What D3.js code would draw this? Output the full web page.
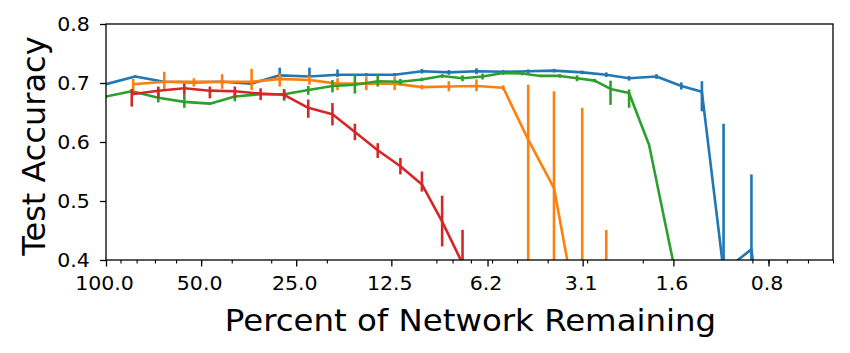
<!DOCTYPE html>
<html>
<head>
<meta charset="utf-8">
<script src="https://cdn.jsdelivr.net/npm/d3@7"></script>
<style>
  body { margin: 0; background: #fff; }
  svg text { font-family: "DejaVu Sans", sans-serif; fill: #000; }
</style>
</head>
<body>
<svg id="chart" width="850" height="353"></svg>
<script>
// ---- data (percent of network remaining, test accuracy, error-bar low / high) ----
const tickValues = [100, 50, 25, 12.5, 6.2, 3.1, 1.6, 0.8];
const tickLabels = ["100.0", "50.0", "25.0", "12.5", "6.2", "3.1", "1.6", "0.8"];
const yTicks = [0.4, 0.5, 0.6, 0.7, 0.8];

const blueX  = [100, 80.9, 65.4, 52.7, 42.9, 34.6, 28.2, 22.7, 18.5, 15.0, 12.2, 10.0, 8.22, 6.72, 5.53, 4.61, 3.82, 3.11, 2.61, 2.21, 1.81, 1.51, 1.30, 1.11, 0.906, 0.765];
const blueY  = [0.698, 0.711, 0.702, 0.701, 0.702, 0.699, 0.713, 0.711, 0.714, 0.714, 0.714, 0.720, 0.718, 0.720, 0.719, 0.720, 0.721, 0.718, 0.714, 0.708, 0.711, 0.695, 0.685, 0.381, 0.418, 0.10];
const blueLo = [0.696, 0.709, 0.699, 0.698, 0.699, 0.696, 0.709, 0.709, 0.710, 0.711, 0.711, 0.716, 0.714, 0.715, 0.716, 0.717, 0.718, 0.715, 0.710, 0.704, 0.707, 0.689, 0.652, 0.131, 0.291, 0.10];
const blueHi = [0.700, 0.713, 0.705, 0.704, 0.705, 0.702, 0.726, 0.726, 0.723, 0.717, 0.717, 0.724, 0.722, 0.725, 0.722, 0.723, 0.724, 0.721, 0.718, 0.712, 0.715, 0.701, 0.703, 0.631, 0.545, 0.10];

const orangeX  = [82.0, 65.4, 52.7, 42.9, 34.6, 28.2, 22.7, 18.5, 15.0, 12.2, 10.0, 8.22, 6.72, 5.53, 4.61, 3.82, 3.11, 2.61];
const orangeY  = [0.698, 0.702, 0.702, 0.702, 0.702, 0.707, 0.705, 0.699, 0.699, 0.699, 0.693, 0.694, 0.695, 0.692, 0.604, 0.522, 0.262, 0.20];
const orangeLo = [0.686, 0.688, 0.694, 0.690, 0.688, 0.694, 0.697, 0.688, 0.688, 0.688, 0.689, 0.686, 0.686, 0.688, 0.30, 0.358, -0.134, -0.05];
const orangeHi = [0.707, 0.719, 0.708, 0.715, 0.724, 0.716, 0.712, 0.708, 0.710, 0.710, 0.697, 0.703, 0.706, 0.696, 0.697, 0.686, 0.658, 0.451];

const greenX  = [100, 82.9, 68.3, 56.5, 46.9, 39.1, 32.4, 27.3, 22.9, 19.2, 16.3, 13.8, 11.7, 10.0, 8.63, 7.44, 6.43, 5.53, 4.82, 4.21, 3.66, 3.23, 2.84, 2.53, 2.21, 1.91, 1.68, 1.47];
const greenY  = [0.677, 0.686, 0.675, 0.668, 0.665, 0.677, 0.681, 0.681, 0.688, 0.695, 0.697, 0.703, 0.702, 0.706, 0.712, 0.708, 0.711, 0.717, 0.716, 0.712, 0.712, 0.708, 0.704, 0.690, 0.683, 0.595, 0.45, 0.30];
const greenLo = [0.675, 0.684, 0.667, 0.658, 0.663, 0.669, 0.678, 0.670, 0.680, 0.684, 0.682, 0.694, 0.697, 0.703, 0.709, 0.703, 0.706, 0.714, 0.713, 0.710, 0.709, 0.703, 0.701, 0.663, 0.658, 0.595, 0.45, 0.30];
const greenHi = [0.679, 0.688, 0.684, 0.680, 0.667, 0.684, 0.684, 0.690, 0.695, 0.705, 0.714, 0.714, 0.707, 0.709, 0.715, 0.713, 0.716, 0.720, 0.719, 0.714, 0.715, 0.713, 0.707, 0.704, 0.689, 0.595, 0.45, 0.30];

const redX  = [82.9, 68.3, 56.5, 46.9, 39.1, 32.4, 27.3, 22.9, 19.2, 16.3, 13.8, 11.7, 10.0, 8.63, 7.44];
const redY  = [0.681, 0.687, 0.691, 0.687, 0.686, 0.682, 0.680, 0.658, 0.647, 0.617, 0.586, 0.559, 0.528, 0.465, 0.394];
const redLo = [0.660, 0.674, 0.680, 0.674, 0.674, 0.671, 0.672, 0.641, 0.628, 0.603, 0.573, 0.545, 0.516, 0.423, 0.340];
const redHi = [0.690, 0.694, 0.699, 0.694, 0.694, 0.691, 0.688, 0.672, 0.666, 0.631, 0.598, 0.573, 0.550, 0.509, 0.451];

const series = [
  {color: "#1f77b4", x: blueX,   y: blueY,   lo: blueLo,   hi: blueHi},
  {color: "#ff7f0e", x: orangeX, y: orangeY, lo: orangeLo, hi: orangeHi},
  {color: "#2ca02c", x: greenX,  y: greenY,  lo: greenLo,  hi: greenHi},
  {color: "#d62728", x: redX,    y: redY,    lo: redLo,    hi: redHi}
];

// ---- layout ----
const L = 106, R = 833, T = 24, B = 260;
const SX = 1.08; // horizontal stretch of the reference text
const svg = d3.select("#chart");
const x = d3.scaleLog().domain([100, 0.5]).range([L, R]);
const y = d3.scaleLinear().domain([0.4, 0.8]).range([B, T]);

svg.append("defs").append("clipPath").attr("id", "clip")
  .append("rect").attr("x", L).attr("y", T).attr("width", R - L).attr("height", B - T);

const plot = svg.append("g").attr("clip-path", "url(#clip)");
const line = d3.line().x(d => x(d[0])).y(d => y(d[1]));

series.forEach(s => {
  const pts = s.x.map((v, i) => [v, s.y[i], s.lo[i], s.hi[i]]);
  plot.append("path").datum(pts)
    .attr("d", line).attr("fill", "none")
    .attr("stroke", s.color).attr("stroke-width", 2.6)
    .attr("stroke-linejoin", "round");
  plot.selectAll(null).data(pts.filter(d => d[3] > d[2])).enter().append("line")
    .attr("x1", d => x(d[0])).attr("x2", d => x(d[0]))
    .attr("y1", d => y(d[2])).attr("y2", d => y(d[3]))
    .attr("stroke", s.color).attr("stroke-width", 2.6);
});

// minor ticks on log axis (2..9 x 10^k)
const minor = [];
[0.1, 1, 10].forEach(dec => { for (let m = 2; m <= 9; m++) { const v = m * dec; if (v <= 100 && v >= 0.5) minor.push(v); } });

const xMinor = d3.axisBottom(x).tickValues(minor).tickSize(3.5).tickFormat("");
svg.append("g").attr("transform", `translate(0,${B})`).call(xMinor)
  .call(g => g.select(".domain").remove())
  .call(g => g.selectAll("line").attr("stroke", "#000").attr("stroke-width", 1.1));

const xAxis = d3.axisBottom(x).tickValues(tickValues).tickSize(6.5).tickPadding(10)
  .tickFormat((d, i) => tickLabels[i]);
svg.append("g").attr("transform", `translate(0,${B})`).call(xAxis)
  .call(g => g.select(".domain").remove())
  .call(g => g.selectAll("line").attr("stroke", "#000").attr("stroke-width", 1.3))
  .call(g => g.selectAll("text").attr("font-size", 19).attr("font-family", "DejaVu Sans")
    .attr("fill", "#000").attr("transform", `translate(-2,0) scale(${SX},1)`));

const yAxis = d3.axisLeft(y).tickValues(yTicks).tickSize(6).tickPadding(9).tickFormat(d3.format(".1f"));
svg.append("g").attr("transform", `translate(${L},0)`).call(yAxis)
  .call(g => g.select(".domain").remove())
  .call(g => g.selectAll("line").attr("stroke", "#000").attr("stroke-width", 1.3))
  .call(g => g.selectAll("text").attr("font-size", 19).attr("font-family", "DejaVu Sans")
    .attr("fill", "#000").attr("transform", `scale(${SX},1)`));

// frame
svg.append("rect").attr("x", L).attr("y", T).attr("width", R - L).attr("height", B - T)
  .attr("fill", "none").attr("stroke", "#000").attr("stroke-width", 1.3);

// axis labels
svg.append("g").attr("transform", `translate(${(L + R) / 2 + 1},331) scale(${SX},1)`)
  .append("text").attr("text-anchor", "middle").attr("font-size", 30)
  .text("Percent of Network Remaining");
svg.append("text").attr("transform", `translate(45,146) rotate(-90)`)
  .attr("text-anchor", "middle").attr("font-size", 32).text("Test Accuracy");
</script>
</body>
</html>
